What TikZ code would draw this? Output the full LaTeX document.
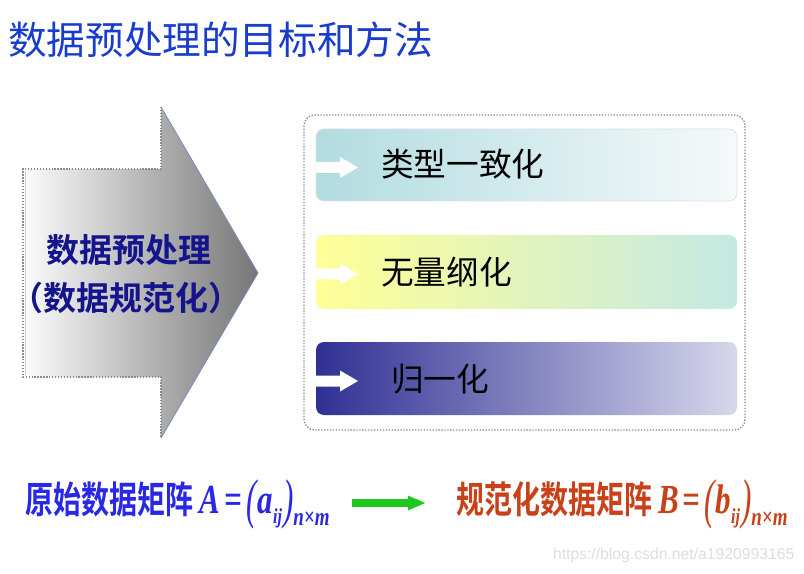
\documentclass[tikz,border=0pt]{standalone}
\usepackage{fontspec}
\usepackage{graphicx}
\newfontfamily\cjk{Noto Sans CJK SC}[BoldFont={Noto Sans CJK SC Bold}]
\newfontfamily\tnr{Liberation Serif}
\newfontfamily\arial{Liberation Sans}
\usetikzlibrary{arrows.meta}
\definecolor{titleblue}{RGB}{25,60,205}
\definecolor{navy}{RGB}{20,20,140}
\definecolor{lblue}{RGB}{40,40,230}
\definecolor{lorange}{RGB}{200,65,25}
\definecolor{arrL}{RGB}{252,252,252}
\definecolor{arrR}{RGB}{118,118,118}
\definecolor{steel}{RGB}{120,140,190}
\definecolor{bA1}{RGB}{178,220,224}
\definecolor{bA2}{RGB}{214,235,238}
\definecolor{bA3}{RGB}{245,249,250}
\definecolor{bB1}{RGB}{255,255,150}
\definecolor{bB2}{RGB}{232,243,190}
\definecolor{bB3}{RGB}{196,232,228}
\definecolor{bC1}{RGB}{48,48,148}
\definecolor{bC2}{RGB}{165,165,205}
\definecolor{bC3}{RGB}{215,215,236}
\definecolor{garrow}{RGB}{30,200,30}
\definecolor{wm}{RGB}{222,222,222}
\tikzset{
  dotborder/.style={draw=gray!90, line width=1pt, dash pattern=on 1pt off 1.2pt},
  bandline/.style={draw=black!12, line width=0.5pt},
  cjktitle/.style={font=\cjk\fontsize{29pt}{29pt}\selectfont, text=titleblue},
  arrowtext/.style={font=\cjk\bfseries\fontsize{24.75pt}{24.75pt}\selectfont, text=navy},
  bandtext/.style={font=\cjk\fontsize{24.5pt}{24.5pt}\selectfont, text=black, anchor=west},
  whitearrow/.style={fill=white},
}
\newcommand{\wharrow}[1]{\fill[whitearrow] (316,#1-5.5)--(340,#1-5.5)--(340,#1-10.5)--(358,#1)--(340,#1+10.5)--(340,#1+5.5)--(316,#1+5.5)--cycle;}
\newcommand{\matexpr}[3]{\scalebox{0.75}[1]{%
  {\cjk\bfseries\fontsize{28pt}{28pt}\selectfont #1}\hspace{6pt}%
  {\tnr\bfseries\itshape\fontsize{31pt}{31pt}\selectfont #2\hspace{4pt}=\hspace{4pt}\raisebox{-3pt}{\scalebox{1}[1.32]{\mdseries(}}\hspace{1pt}#3\raisebox{-8pt}{\fontsize{16pt}{16pt}\selectfont ij}\hspace{1pt}\raisebox{-3pt}{\scalebox{1}[1.32]{\mdseries)}}\raisebox{-9pt}{\fontsize{19pt}{19pt}\selectfont n\texttimes m}}}}
\begin{document}
\begin{tikzpicture}[x=0.75pt,y=-0.75pt, every node/.style={inner sep=0pt, outer sep=0pt}]
\useasboundingbox (0,0) rectangle (804,574);
\fill[white] (0,0) rectangle (804,574);

% title
\node[cjktitle, anchor=west] (title) at (8,40) {数据预处理的目标和方法};

% big arrow
\shade[left color=arrL, right color=arrR] (23,169) -- (161,169) -- (161,107) -- (258,273) -- (161,438) -- (161,377) -- (23,377) -- cycle;
\draw[dotborder] (161,107)--(161,169)--(23,169)--(23,377)--(161,377)--(161,438);
\draw[steel, line width=0.6pt] (161,438)--(258,273)--(161,107);
\draw[steel!40, line width=0.6pt] (25,171)--(25,375);
\node[arrowtext] (pre1) at (129,250) {数据预处理};
\node[arrowtext] (pre2) at (126,298) {（数据规范化）};

% outer dotted box
\draw[dotborder, rounded corners=8] (304,115) rectangle (745,430);

% bands
\shade[left color=bA1, middle color=bA2, right color=bA3, rounded corners=6] (316,129) rectangle (737,201);
\draw[bandline, rounded corners=6] (316,129) rectangle (737,201);
\shade[left color=bB1, middle color=bB2, right color=bB3, rounded corners=6] (316,235) rectangle (737,309);
\shade[left color=bC1, middle color=bC2, right color=bC3, rounded corners=6] (316,342) rectangle (737,415);
\wharrow{167.5}
\wharrow{274}
\wharrow{381}
\node[bandtext] (t1) at (381,164) {类型一致化};
\node[bandtext] (t2) at (381,272) {无量纲化};
\node[bandtext] (t3) at (391,379) {归一化};

% bottom line
\node[anchor=base west, text=lblue] (orig) at (26,513) {\matexpr{原始数据矩阵}{A}{a}};
\node[anchor=base west, text=lorange] (norm) at (456,513) {\matexpr{规范化数据矩阵}{B}{b}};
\coordinate (g1) at (352,503);
\coordinate (g2) at (426,503);
\draw[garrow, line width=5.5pt, -{Triangle[length=13.5pt, width=10pt]}] (g1) -- (g2);

% watermark
\node[text=wm, font=\arial\fontsize{11.8pt}{11.8pt}\selectfont, anchor=west] (wmk) at (553,555) {https://blog.csdn.net/a1920993165};
\end{tikzpicture}
\end{document}
